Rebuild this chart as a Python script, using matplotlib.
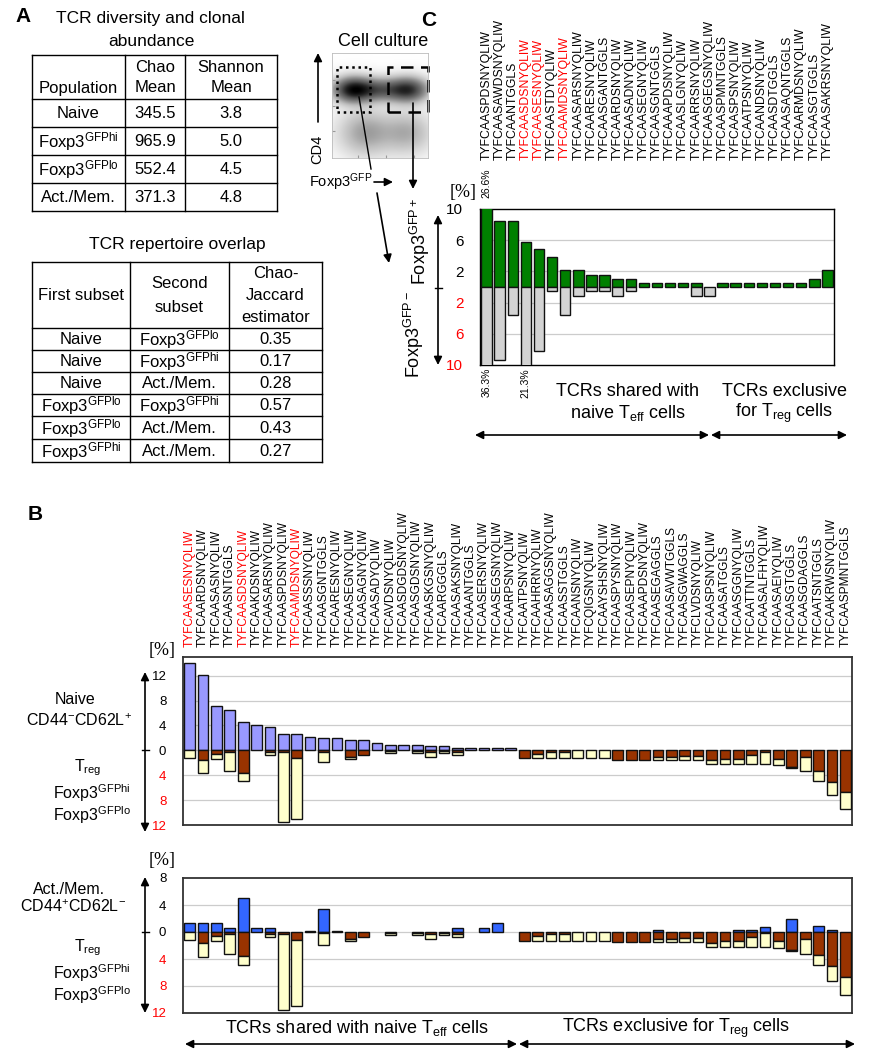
import numpy as np
import matplotlib
matplotlib.use('Agg')
import matplotlib.pyplot as plt
from matplotlib.transforms import blended_transform_factory

plt.rcParams['font.family'] = ['Liberation Sans', 'DejaVu Sans']
plt.rcParams['mathtext.fontset'] = 'custom'
plt.rcParams['mathtext.rm'] = 'Liberation Sans'
plt.rcParams['mathtext.it'] = 'Liberation Sans:italic'
plt.rcParams['mathtext.bf'] = 'Liberation Sans:bold'
plt.rcParams['mathtext.default'] = 'regular'

# ---------------- panel A data
pop_names = ['Naive', 'Foxp3$^{GFPhi}$', 'Foxp3$^{GFPlo}$', 'Act./Mem.']
chao_mean = [345.5, 965.9, 552.4, 371.3]
shannon_mean = [3.8, 5.0, 4.5, 4.8]

first_subset = ['Naive', 'Naive', 'Naive', 'Foxp3$^{GFPlo}$', 'Foxp3$^{GFPlo}$', 'Foxp3$^{GFPhi}$']
second_subset = ['Foxp3$^{GFPlo}$', 'Foxp3$^{GFPhi}$', 'Act./Mem.', 'Foxp3$^{GFPhi}$', 'Act./Mem.', 'Act./Mem.']
chao_jaccard = [0.35, 0.17, 0.28, 0.57, 0.43, 0.27]

highlight_tcrs = ['TYFCAASESNYQLIW', 'TYFCAASDSNYQLIW', 'TYFCAAMDSNYQLIW']

# ---------------- panel B data
b_tcrs = ['TYFCAASESNYQLIW', 'TYFCAARDSNYQLIW', 'TYFCAASASNYQLIW', 'TYFCAASNTGGLS',
          'TYFCAASDSNYQLIW', 'TYFCAAKDSNYQLIW', 'TYFCAASARSNYQLIW', 'TYFCAASPDSNYQLIW',
          'TYFCAAMDSNYQLIW', 'TYFCAASSSNYQLIW', 'TYFCAASGNTGGLS', 'TYFCAARESNYQLIW',
          'TYFCAASEGNYQLIW', 'TYFCAASAGNYQLIW', 'TYFCAASADYQLIW', 'TYFCAVDSNYQLIW',
          'TYFCAASDGDSNYQLIW', 'TYFCAASGDSNYQLIW', 'TYFCAASKGSNYQLIW', 'TYFCAARGGGLS',
          'TYFCAASAKSNYQLIW', 'TYFCAAANTGGLS', 'TYFCAASERSNYQLIW', 'TYFCAASEGSNYQLIW',
          'TYFCAARPSNYQLIW', 'TYFCAATPSNYQLIW', 'TYFCAAHRRNYQLIW', 'TYFCAASAGGSNYQLIW',
          'TYFCAASSTGGLS', 'TYFCAANSNYQLIW', 'TYFCQIGSNYQLIW', 'TYFCAAYSHSNYQLIW',
          'TYFCAASPYSNYQLIW', 'TYFCAASEPNYQLIW', 'TYFCAAAPDSNYQLIW', 'TYFCAASEGAGGLS',
          'TYFCAASAVWTGGLS', 'TYFCAASGWAGGLS', 'TYFCLVDSNYQLIW', 'TYFCAASPSNYQLIW',
          'TYFCAASATGGLS', 'TYFCAASGGNYQLIW', 'TYFCAATTNTGGLS', 'TYFCAASALFHYQLIW',
          'TYFCAASAEIYQLIW', 'TYFCAASGTGGLS', 'TYFCAASGDAGGLS', 'TYFCAATSNTGGLS',
          'TYFCAAKRWSNYQLIW', 'TYFCAASPMNTGGLS']
naive_pct = [14.1, 12.05, 7.2, 6.5, 4.5, 4.05, 3.8, 2.7, 2.7, 2.2,
             2.0, 2.0, 1.7, 1.7, 1.1, 0.9, 0.9, 0.9, 0.65, 0.65,
             0.4, 0.4, 0.4, 0.4, 0.4] + [0] * 25
actmem_pct = [1.3, 1.3, 1.3, 0.6, 5.0, 0.6, 0.6, 0, 0, 0.15,
              3.4, 0.15, 0, 0, 0, 0, 0, 0, 0, 0,
              0.6, 0, 0.6, 1.3, 0,
              0, 0, 0, 0, 0, 0, 0, 0, 0, 0,
              0.25, 0, 0, 0, 0, 0, 0.25, 0.25, 0.7, 0,
              1.9, 0, 0.9, 0.25, 0]
treg_hi_pct = [0, 1.6, 0.65, 0.3, 3.6, 0, 0.25, 0.3, 1.2, 0,
               0.2, 0, 1.0, 0.7, 0, 0.1, 0, 0.1, 0.3, 0.1,
               0.3, 0, 0, 0, 0,
               1.3, 0.6, 0.3, 0.3, 0, 0, 0, 1.5, 1.5, 1.5,
               1.0, 1.0, 0.85, 0.85, 1.6, 1.4, 1.4, 0.75, 0.2, 1.4,
               2.6, 1.0, 3.4, 5.1, 6.7]
treg_lo_pct = [1.2, 2.1, 0.75, 2.95, 1.3, 0, 0.5, 11.2, 9.8, 0,
               1.7, 0, 0.4, 0, 0, 0.3, 0, 0.3, 0.7, 0.3,
               0.4, 0, 0, 0, 0,
               0, 0.7, 1.0, 1.0, 1.3, 1.3, 1.3, 0, 0, 0,
               0.5, 0.5, 0.65, 0.65, 0.55, 0.75, 0.75, 1.4, 1.95, 1.0,
               0.25, 2.25, 1.5, 2.1, 2.7]

# ---------------- panel C data
c_tcrs = ['TYFCAASPDSNYQLIW', 'TYFCAASAWDSNYQLIW', 'TYFCAANTGGLS', 'TYFCAASDSNYQLIW',
          'TYFCAASESNYQLIW', 'TYFCAASTDYQLIW', 'TYFCAAMDSNYQLIW', 'TYFCAASARSNYQLIW',
          'TYFCAARESNYQLIW', 'TYFCAASGANTGGLS', 'TYFCAARDSNYQLIW', 'TYFCAASADNYQLIW',
          'TYFCAASEGNYQLIW', 'TYFCAASGNTGGLS', 'TYFCAAAPDSNYQLIW', 'TYFCAASLGNYQLIW',
          'TYFCAARRSNYQLIW', 'TYFCAASGEGSNYQLIW', 'TYFCAASPMNTGGLS', 'TYFCAASPSNYQLIW',
          'TYFCAATPSNYQLIW', 'TYFCAANDSNYQLIW', 'TYFCAASDTGGLS', 'TYFCAASAQNTGGLS',
          'TYFCAARMDSNYQLIW', 'TYFCAASGTGGLS', 'TYFCAASAKRSNYQLIW']
gfp_pos_pct = [26.6, 8.5, 8.5, 5.8, 4.85, 3.8, 2.15, 2.15, 1.6, 1.6,
               1.07, 1.07, 0.55, 0.55, 0.55, 0.55, 0.55, 0, 0.55, 0.55,
               0.55, 0.55, 0.55, 0.55, 0.55, 1.07, 2.15]
gfp_neg_pct = [36.3, 9.4, 3.65, 21.3, 8.15, 0.5, 3.65, 1.1, 0.5, 0.5,
               1.1, 0.5, 0, 0, 0, 0, 1.1, 1.1, 0, 0,
               0, 0, 0, 0, 0, 0, 0]

W, H = 880, 1050
fig = plt.figure(figsize=(W / 100, H / 100), dpi=100)


def box(x0, y0, x1, y1):
    return [x0 / W, 1 - y1 / H, (x1 - x0) / W, (y1 - y0) / H]


def draw_bars(ax, x, heights, bottoms, color):
    h = np.asarray(heights, float)
    b = np.asarray(bottoms, float)
    m = h != 0
    ax.bar(x[m], h[m], 0.8, bottom=b[m], color=color, edgecolor='#111111',
           linewidth=1.0, zorder=3)


def style_frame(ax, ticks, ylim, grid, size):
    ax.set_ylim(*ylim)
    ax.set_yticks(ticks)
    ax.set_yticklabels([str(abs(t)) for t in ticks])
    for t, lab in zip(ticks, ax.get_yticklabels()):
        lab.set_color('red' if t < 0 else 'black')
    ax.tick_params(axis='y', length=0, pad=12, labelsize=size)
    ax.set_xticks([])
    for g in grid:
        ax.axhline(g, color='#cccccc', lw=0.9, zorder=0)
    for s in ax.spines.values():
        s.set_color('#333333')
        s.set_linewidth(1.3)


# ---------------- panel B charts
xb = np.arange(len(b_tcrs))
hi = np.array(treg_hi_pct)
lo = np.array(treg_lo_pct)
axB1 = fig.add_axes(box(183, 657, 852, 825))
axB2 = fig.add_axes(box(183, 878, 852, 1013))
for ax, up, col, ylim, ticks, grid in [
        (axB1, naive_pct, '#9999ff', (-12, 15), [12, 8, 4, 0, -4, -8, -12], [12, 8, 4, 0, -4, -8]),
        (axB2, actmem_pct, '#3366ff', (-12, 8), [8, 4, 0, -4, -8, -12], [4, 0, -4, -8])]:
    draw_bars(ax, xb, up, np.zeros(len(xb)), col)
    draw_bars(ax, xb, -hi, np.zeros(len(xb)), '#993300')
    draw_bars(ax, xb, -lo, -hi, '#ffffcc')
    ax.set_xlim(-0.5, len(xb) - 0.5)
    style_frame(ax, ticks, ylim, grid, 9.5)

trB = blended_transform_factory(axB1.transData, axB1.transAxes)
for i, name in enumerate(b_tcrs):
    axB1.text(i, 1.06, name, transform=trB, rotation=90, ha='center', va='bottom',
              fontsize=8.6, color='red' if name in highlight_tcrs else 'black')

# ---------------- panel C chart
xc = np.arange(len(c_tcrs))
axC = fig.add_axes(box(480, 209, 834, 365))
draw_bars(axC, xc, gfp_pos_pct, np.zeros(len(xc)), '#008000')
draw_bars(axC, xc, -np.array(gfp_neg_pct), np.zeros(len(xc)), '#d3d3d3')
axC.set_xlim(-0.5, len(xc) - 0.5)
style_frame(axC, [10, 6, 2, -2, -6, -10], (-10, 10), [6, 2, -2, -6], 11)
for s in axC.spines.values():
    s.set_color('black')
    s.set_linewidth(1.0)
trC = blended_transform_factory(axC.transData, axC.transAxes)
for i, name in enumerate(c_tcrs):
    axC.text(i, 1.314, name, transform=trC, rotation=90, ha='center', va='bottom',
             fontsize=8.8, color='red' if name in highlight_tcrs else 'black')
for i, v in enumerate(gfp_pos_pct):
    if v > 10:
        axC.text(i, 1.07, f'{v}%', transform=trC, rotation=90, ha='center', va='bottom', fontsize=7.5)
for i, v in enumerate(gfp_neg_pct):
    if v > 10:
        axC.text(i, -0.02, f'{v}%', transform=trC, rotation=90, ha='center', va='top', fontsize=7.5)

# ---------------- flow cytometry plot (panel C)
axF = fig.add_axes(box(332, 53, 428, 158))
gx, gy = np.meshgrid(np.linspace(0, 1, 240), np.linspace(0, 1, 240))
flow_pops = [(0.22, 0.65, 0.13, 0.075, 1.0), (0.80, 0.65, 0.13, 0.075, 0.8),
             (0.50, 0.65, 0.18, 0.07, 0.6), (0.35, 0.24, 0.18, 0.14, 0.3),
             (0.78, 0.24, 0.17, 0.13, 0.25)]
dens = np.zeros_like(gx)
for cx, cy, sx, sy, a in flow_pops:
    dens += a * np.exp(-((gx - cx) ** 2 / (2 * sx ** 2) + (gy - cy) ** 2 / (2 * sy ** 2)))
axF.imshow(dens ** 0.55, cmap='Greys', origin='lower', extent=(0, 1, 0, 1),
           vmin=0, vmax=1.1, aspect='auto', interpolation='bilinear')
axF.set_xlim(0, 1)
axF.set_ylim(0, 1)
axF.set_xticks([0.27, 0.56, 0.85])
axF.set_yticks([0.26, 0.5, 0.745])
axF.tick_params(length=2.5, color='#999999', labelleft=False, labelbottom=False, direction='in')
for s in axF.spines.values():
    s.set_color('#bbbbbb')
    s.set_linewidth(0.6)
axF.add_patch(plt.Rectangle((0.05, 0.44), 0.35, 0.43, fill=False, ls=(0, (1, 1.5)), lw=1.8, color='black'))
axF.add_patch(plt.Rectangle((0.58, 0.44), 0.42, 0.43, fill=False, ls=(0, (5, 3)), lw=1.8, color='black', clip_on=False))

# ---------------- annotation canvas
cv = fig.add_axes([0, 0, 1, 1], zorder=10)
cv.set_xlim(0, W)
cv.set_ylim(H, 0)
cv.axis('off')


def arrow(x0, y0, x1, y1, style='-|>', ms=12, lw=1.2):
    cv.annotate('', xy=(x1, y1), xytext=(x0, y0),
                arrowprops=dict(arrowstyle=style, color='black', lw=lw, mutation_scale=ms,
                                shrinkA=0, shrinkB=0))


# panel A: table 1
cv.text(23, 17, 'A', fontsize=15, fontweight='bold', ha='center', va='center')
cv.text(150, 18, 'TCR diversity and clonal', fontsize=12.5, ha='center', va='center')
cv.text(151, 42, 'abundance', fontsize=12.5, ha='center', va='center')
t1_cols = [32, 125, 185, 277]
t1_rows = [55, 99, 127, 155, 183, 211]
for y in t1_rows:
    cv.plot([t1_cols[0], t1_cols[-1]], [y, y], color='black', lw=1)
for x in t1_cols:
    cv.plot([x, x], [t1_rows[0], t1_rows[-1]], color='black', lw=1)
cv.text(78.5, 88, 'Population', fontsize=12, ha='center', va='center')
cv.text(155, 67, 'Chao', fontsize=12, ha='center', va='center')
cv.text(155, 88, 'Mean', fontsize=12, ha='center', va='center')
cv.text(231, 67, 'Shannon', fontsize=12, ha='center', va='center')
cv.text(231, 88, 'Mean', fontsize=12, ha='center', va='center')
for r, (p, c, s) in enumerate(zip(pop_names, chao_mean, shannon_mean)):
    yc = (t1_rows[r + 1] + t1_rows[r + 2]) / 2 + 1
    cv.text(78.5, yc, p, fontsize=12, ha='center', va='center')
    cv.text(155, yc, f'{c:.1f}', fontsize=12, ha='center', va='center')
    cv.text(231, yc, f'{s:.1f}', fontsize=12, ha='center', va='center')

# panel A: table 2
cv.text(177, 245, 'TCR repertoire overlap', fontsize=12.5, ha='center', va='center')
t2_cols = [32, 130, 229, 322]
t2_rows = [262, 328, 350, 372, 394, 416, 439, 462]
for y in t2_rows:
    cv.plot([t2_cols[0], t2_cols[-1]], [y, y], color='black', lw=1)
for x in t2_cols:
    cv.plot([x, x], [t2_rows[0], t2_rows[-1]], color='black', lw=1)
cv.text(81, 295, 'First subset', fontsize=12, ha='center', va='center')
cv.text(179.5, 283, 'Second', fontsize=12, ha='center', va='center')
cv.text(179.5, 307, 'subset', fontsize=12, ha='center', va='center')
cv.text(275.5, 273, 'Chao-', fontsize=12, ha='center', va='center')
cv.text(275.5, 295, 'Jaccard', fontsize=12, ha='center', va='center')
cv.text(275.5, 317, 'estimator', fontsize=12, ha='center', va='center')
for r, (a, b, v) in enumerate(zip(first_subset, second_subset, chao_jaccard)):
    yc = (t2_rows[r + 1] + t2_rows[r + 2]) / 2 + 1
    cv.text(81, yc, a, fontsize=12, ha='center', va='center')
    cv.text(179.5, yc, b, fontsize=12, ha='center', va='center')
    cv.text(275.5, yc, f'{v:.2f}', fontsize=12, ha='center', va='center')

# panel B annotations
cv.text(35, 515, 'B', fontsize=15, fontweight='bold', ha='center', va='center')
cv.text(162, 650, '[%]', fontsize=13, family='Liberation Serif', ha='center', va='center')
cv.text(162, 861, '[%]', fontsize=13, family='Liberation Serif', ha='center', va='center')
arrow(145, 832, 145, 672, style='<|-|>')
arrow(145, 1013, 145, 877, style='<|-|>')
cv.plot([142, 149], [750.3, 750.3], color='black', lw=1)
cv.plot([142, 149], [932.3, 932.3], color='black', lw=1)
cv.text(75, 699, 'Naive', fontsize=11.5, ha='center', va='center')
cv.text(79, 721, 'CD44$^{-}$CD62L$^{+}$', fontsize=11.5, ha='center', va='center')
cv.text(69, 890, 'Act./Mem.', fontsize=11.5, ha='center', va='center')
cv.text(73, 907, 'CD44$^{+}$CD62L$^{-}$', fontsize=11.5, ha='center', va='center')
for y0 in (768, 948):
    cv.text(88, y0, 'T$_{reg}$', fontsize=11.5, ha='center', va='center')
    cv.text(92, y0 + 25, 'Foxp3$^{GFPhi}$', fontsize=11.5, ha='center', va='center')
    cv.text(92, y0 + 47, 'Foxp3$^{GFPlo}$', fontsize=11.5, ha='center', va='center')
cv.text(357, 1028, 'TCRs shared with naive T$_{eff}$ cells', fontsize=13, ha='center', va='center')
cv.text(676, 1028, 'TCRs exclusive for T$_{reg}$ cells', fontsize=13, ha='center', va='center')
arrow(185, 1044, 517, 1044, style='<|-|>')
arrow(519, 1044, 855, 1044, style='<|-|>')

# panel C annotations
cv.text(429, 21, 'C', fontsize=15, fontweight='bold', ha='center', va='center')
cv.text(383, 41, 'Cell culture', fontsize=13, ha='center', va='center')
cv.text(317, 149, 'CD4', fontsize=10.5, rotation=90, ha='center', va='center')
arrow(318, 122, 318, 53)
cv.text(341, 182, 'Foxp3$^{GFP}$', fontsize=10.5, ha='center', va='center')
arrow(374, 182, 393, 182)
cv.plot([359, 371], [97, 169], color='black', lw=1)
arrow(377, 193, 389, 263)
arrow(413, 103, 413, 189)
cv.text(463, 193, '[%]', fontsize=13, family='Liberation Serif', ha='center', va='center')
arrow(438, 365, 438, 215, style='<|-|>')
cv.plot([435, 442], [287.7, 287.7], color='black', lw=1)
cv.text(420, 242, 'Foxp3$^{GFP+}$', fontsize=13, rotation=90, ha='center', va='center')
cv.text(414, 335, 'Foxp3$^{GFP-}$', fontsize=13, rotation=90, ha='center', va='center')
cv.text(628, 392, 'TCRs shared with', fontsize=13, ha='center', va='center')
cv.text(628, 413, 'naive T$_{eff}$ cells', fontsize=13, ha='center', va='center')
cv.text(784, 391, 'TCRs exclusive', fontsize=13, ha='center', va='center')
cv.text(784, 413, 'for T$_{reg}$ cells', fontsize=13, ha='center', va='center')
arrow(475, 435, 709, 435, style='<|-|>')
arrow(711, 435, 847, 435, style='<|-|>')

fig.savefig('out.png', dpi=100)
